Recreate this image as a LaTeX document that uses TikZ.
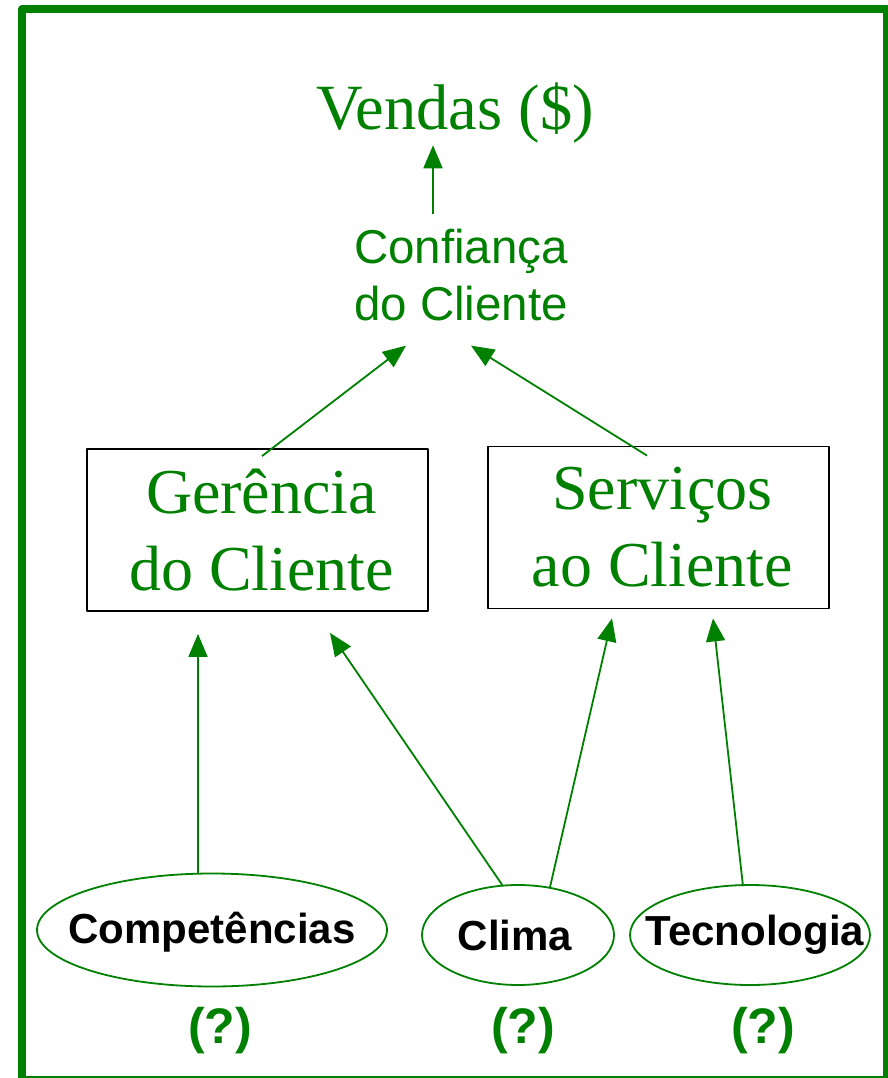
\documentclass[tikz,border=0pt]{standalone}
\usepackage{fontspec}
\setmainfont{Liberation Serif}
\setsansfont{Liberation Sans}
\usetikzlibrary{arrows.meta,shapes.geometric}
\definecolor{verde}{RGB}{0,128,0}
\tikzset{
	caixa/.style={draw=black, line width=1.8pt, minimum width=341pt, minimum height=162pt, align=center, text=verde, font=\fontsize{64}{77}\selectfont},
	elipse/.style={ellipse, draw=verde, line width=1.8pt, inner sep=0pt},
	rotulo/.style={text=black, font=\sffamily\bfseries\fontsize{42}{50}\selectfont},
	duvida/.style={text=verde, font=\sffamily\bfseries\fontsize{50}{60}\selectfont},
	seta/.style={draw=verde, line width=1.8pt, -{Triangle[length=23pt,width=19pt]}},
}
\begin{document}
\begin{tikzpicture}[x=1pt, y=-1pt, line join=round]
			\useasboundingbox (0,0) rectangle (888,1078);
			\clip (0,0) rectangle (888,1078);
			\draw[verde, line width=8pt] (22,9) rectangle (887,1080);
			% topo
			\node[text=verde, font=\fontsize{64.5}{77}\selectfont, anchor=base] (vendas) at (455,130) {Vendas (\$)};
			\node[text=verde, font=\sffamily\fontsize{47.5}{57}\selectfont, align=center, inner sep=0pt] (conf) at (461,275.5) {Confiança\\do Cliente};
			% caixas
			\node[caixa] (ger) at (257.5,530) {\hspace*{8pt}Gerência\\\hspace*{8pt}do Cliente};
			\node[caixa] (serv) at (658.5,527.5) {\hspace*{8pt}Serviços\\\hspace*{8pt}ao Cliente};
			% elipses
			\node[elipse, minimum width=350pt, minimum height=113pt, label={[rotulo, yshift=-2pt]center:Competências}] (comp) at (212,930) {};
			\node[elipse, minimum width=192pt, minimum height=100pt, label={[rotulo, xshift=-3pt]center:Clima}] (clima) at (518,935) {};
			\node[elipse, minimum width=240pt, minimum height=100pt, label={[rotulo, xshift=5pt]center:Tecnologia}] (tecno) at (750,935) {};
			\node[duvida] (q1) at (220,1031) {(?)};
			\node[duvida] (q2) at (523,1031) {(?)};
			\node[duvida] (q3) at (763,1031) {(?)};
			% setas
			\draw[seta] ([xshift=-28pt,yshift=15pt]conf.north) -- ([xshift=-22pt,yshift=2pt]vendas.south);
			\draw[seta] ([xshift=4.5pt,yshift=-8pt]ger.north) -- ([xshift=-55pt,yshift=-24pt]conf.south);
			\draw[seta] ([xshift=-11.5pt,yshift=-10pt]serv.north) -- ([xshift=10pt,yshift=-24pt]conf.south);
			\draw[seta] ([xshift=-14pt]comp.north) -- ([xshift=-59.5pt,yshift=-22pt]ger.south);
			\draw[seta] ([xshift=-15pt,yshift=-2pt]clima.north) -- ([xshift=72.5pt,yshift=-21pt]ger.south);
			\draw[seta] ([xshift=32pt,yshift=-3pt]clima.north) -- ([xshift=-46.5pt,yshift=-9pt]serv.south);
			\draw[seta] ([xshift=-7pt,yshift=-2pt]tecno.north) -- ([xshift=54.5pt,yshift=-9pt]serv.south);
\end{tikzpicture}
\end{document}
